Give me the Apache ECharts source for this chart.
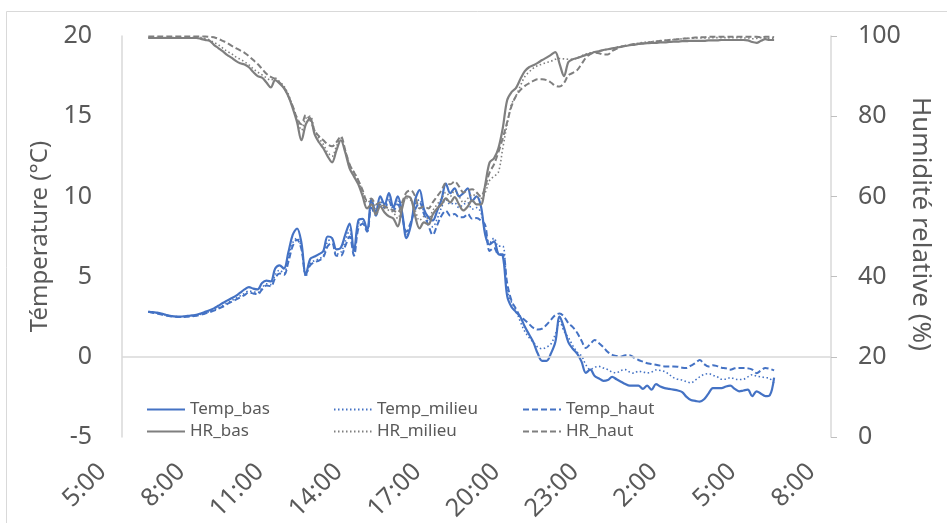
<!DOCTYPE html>
<html><head><meta charset="utf-8">
<script src="https://cdn.jsdelivr.net/npm/echarts@6/dist/echarts.min.js"></script>
<style>html,body{margin:0;padding:0;background:#fff}#c{width:947px;height:523px}</style>
</head><body><div id="c"></div>
<script>
// Time grid: first reading at 6:00, one reading every 10 minutes (hours > 24 = next day)
const startHour = 6;
const stepMinutes = 10;

const tempBas = [
 2.82,2.78,2.75,2.70,2.62,2.55,2.52,2.50,2.52,2.55,2.58,2.62,
 2.70,2.80,2.90,3.02,3.18,3.35,3.50,3.65,3.80,4.00,4.20,4.35,
 4.25,4.20,4.60,4.75,4.70,5.50,5.70,5.50,6.50,7.60,8.00,7.10,
 5.10,6.10,6.25,6.40,6.60,7.50,7.40,6.70,6.80,7.60,8.30,6.60,
 8.50,8.60,7.90,9.80,9.00,10.00,9.50,10.20,9.30,10.00,9.00,7.40,
 8.20,9.80,10.40,9.20,8.70,8.50,9.10,9.80,10.80,10.20,10.50,10.00,
 10.20,10.50,9.70,10.00,9.40,7.60,7.00,7.20,6.40,6.30,3.80,3.10,
 2.80,2.50,1.90,1.40,0.90,0.20,-0.25,-0.25,0.20,0.90,2.50,1.80,
 0.90,0.50,0.20,-0.30,-1.00,-0.80,-1.20,-1.35,-1.50,-1.45,-1.25,-1.40,
 -1.55,-1.70,-1.80,-1.80,-1.80,-2.00,-1.80,-2.05,-1.70,-1.85,-1.95,-2.00,
 -2.05,-2.10,-2.20,-2.50,-2.70,-2.75,-2.80,-2.65,-2.30,-1.95,-1.95,-1.95,
 -1.85,-1.80,-2.00,-2.15,-2.10,-2.05,-2.45,-2.15,-2.30,-2.45,-2.40,-1.30
];
const tempMilieu = [
 2.80,2.76,2.72,2.66,2.60,2.55,2.52,2.50,2.50,2.52,2.55,2.58,
 2.65,2.72,2.82,2.92,3.05,3.20,3.35,3.50,3.65,3.80,3.95,4.10,
 4.05,4.00,4.30,4.55,4.50,5.10,5.40,5.20,6.10,7.10,7.40,6.80,
 5.00,5.80,6.00,6.10,6.30,7.20,7.30,6.40,6.50,7.20,7.90,6.40,
 8.30,8.40,7.80,9.60,8.90,9.70,9.40,9.90,9.20,9.70,8.80,7.60,
 8.30,9.50,9.80,9.00,8.40,8.10,8.60,9.30,9.80,9.50,9.60,9.30,
 9.50,9.60,9.20,9.30,9.00,7.80,7.10,7.40,6.90,6.90,4.20,3.40,
 2.90,2.20,1.60,1.20,0.90,0.60,0.50,0.60,0.80,1.40,2.20,1.60,
 1.20,0.70,0.30,0.05,-0.50,-0.80,-0.65,-0.60,-0.70,-0.80,-0.95,-1.00,
 -0.85,-0.80,-0.95,-1.02,-0.90,-0.95,-1.00,-0.95,-0.82,-0.85,-0.92,-1.10,
 -1.30,-1.40,-1.45,-1.55,-1.62,-1.45,-1.25,-1.10,-1.05,-1.15,-1.25,-1.40,
 -1.40,-1.30,-1.38,-1.42,-1.40,-1.25,-1.12,-1.20,-1.25,-1.30,-1.35,-1.65
];
const tempHaut = [
 2.80,2.75,2.70,2.63,2.58,2.53,2.50,2.48,2.48,2.50,2.52,2.56,
 2.62,2.70,2.78,2.88,3.00,3.12,3.28,3.42,3.56,3.70,3.85,4.00,
 3.95,3.90,4.20,4.45,4.40,4.90,5.20,5.10,5.90,6.90,7.30,6.70,
 5.20,5.70,5.90,6.00,6.20,6.90,7.10,6.30,6.30,6.90,7.50,6.30,
 8.00,8.30,7.80,9.30,8.80,9.50,9.30,9.70,9.10,9.50,8.70,7.80,
 8.40,9.20,9.60,8.90,8.20,7.60,8.20,8.80,9.10,8.80,8.90,8.70,
 8.70,8.90,8.60,8.65,8.50,8.20,6.60,6.80,6.40,6.40,4.60,3.50,
 3.00,2.50,2.30,2.05,1.80,1.70,1.75,2.00,2.30,2.60,2.70,2.50,
 2.10,1.85,1.50,1.00,0.55,0.80,1.05,0.85,0.60,0.30,0.12,0.05,
 0.02,0.10,0.10,-0.05,-0.20,-0.30,-0.40,-0.45,-0.50,-0.55,-0.60,-0.60,
 -0.60,-0.62,-0.68,-0.70,-0.55,-0.40,-0.20,-0.45,-0.60,-0.52,-0.58,-0.68,
 -0.72,-0.80,-0.72,-0.70,-0.70,-0.72,-0.80,-1.02,-0.85,-0.70,-0.75,-0.85
];
const hrBas = [
 99.5,99.5,99.5,99.5,99.5,99.5,99.5,99.5,99.5,99.5,99.5,99.5,
 99.3,99.0,98.8,97.8,97.0,96.2,95.3,94.6,93.8,93.2,92.9,92.2,
 91.0,90.0,89.6,88.4,87.2,89.0,88.2,87.0,85.0,82.0,78.5,74.0,
 78.0,79.5,75.5,73.5,72.0,70.0,68.5,71.5,74.0,71.0,67.0,65.0,
 63.0,60.0,57.0,58.0,55.5,57.5,56.0,55.0,54.5,52.5,57.0,60.0,
 59.5,55.0,52.0,53.5,53.0,55.5,57.0,58.0,59.5,58.5,59.8,58.0,
 56.5,57.5,59.0,58.0,58.0,63.0,68.5,69.5,72.0,77.0,84.0,86.0,
 87.0,89.2,91.2,92.2,92.7,93.3,94.0,94.6,95.3,96.0,93.0,90.0,
 93.5,94.2,94.5,94.9,95.3,95.6,96.0,96.2,96.5,96.7,96.9,97.1,
 97.3,97.5,97.7,97.8,98.0,98.1,98.2,98.3,98.3,98.4,98.4,98.5,
 98.6,98.6,98.7,98.7,98.8,98.8,98.8,98.8,98.9,98.9,98.9,99.0,
 99.0,99.0,99.0,99.0,99.0,98.9,98.5,98.3,98.8,99.2,99.0,99.0
];
const hrMilieu = [
 99.6,99.6,99.6,99.6,99.6,99.6,99.6,99.6,99.6,99.6,99.6,99.6,
 99.6,99.4,99.0,98.4,97.8,97.0,96.2,95.6,94.8,94.2,93.6,92.8,
 91.8,91.0,90.3,89.6,89.0,89.5,88.6,87.5,85.5,82.5,79.5,76.5,
 79.5,80.0,76.5,74.5,73.0,71.0,70.0,72.5,74.5,71.5,68.0,66.0,
 64.0,61.0,58.5,59.0,57.0,58.0,57.0,56.5,56.0,54.5,57.5,59.5,
 59.0,56.5,54.0,55.0,54.5,56.5,58.0,59.5,61.0,60.0,61.5,60.0,
 58.5,59.5,60.5,60.0,59.5,61.0,64.0,65.0,66.0,72.0,78.0,83.0,
 85.0,87.5,89.8,91.0,92.0,92.6,93.0,93.4,93.7,94.2,94.4,94.3,
 94.2,94.2,94.5,95.0,95.5,95.8,96.0,96.2,96.5,96.7,96.9,97.2,
 97.4,97.6,97.8,98.0,98.2,98.4,98.5,98.6,98.7,98.8,98.9,99.0,
 99.1,99.2,99.3,99.4,99.4,99.5,99.5,99.5,99.5,99.6,99.6,99.6,
 99.6,99.6,99.6,99.6,99.5,99.5,99.3,99.4,99.6,99.5,99.4,99.5
];
const hrHaut = [
 99.9,99.9,99.9,99.9,99.9,99.9,99.9,99.9,99.9,99.9,99.9,99.9,
 99.9,99.9,99.8,99.7,99.3,98.8,98.3,97.6,97.0,96.4,95.8,95.0,
 94.0,93.0,91.8,90.6,89.8,89.3,88.4,87.2,85.0,82.5,79.5,78.0,
 80.3,79.0,76.5,75.0,74.0,73.0,72.5,73.5,75.0,71.5,68.0,66.0,
 64.0,61.5,59.0,59.5,58.0,58.5,57.5,57.0,56.5,56.0,58.5,61.0,
 61.5,60.0,57.0,57.5,57.0,58.5,60.0,61.5,63.3,63.0,63.7,62.5,
 61.0,61.5,61.8,61.0,60.0,62.5,66.0,68.0,71.0,74.5,78.5,82.5,
 85.0,86.5,87.5,88.2,88.8,89.2,89.2,89.0,88.4,87.6,87.4,88.3,
 90.2,90.8,91.5,93.0,94.6,95.5,95.8,95.7,95.4,95.4,96.3,96.8,
 97.3,97.6,97.8,98.0,98.1,98.2,98.3,98.5,98.6,98.8,98.9,99.0,
 99.1,99.2,99.3,99.4,99.5,99.6,99.7,99.7,99.8,99.8,99.8,99.8,
 99.8,99.8,99.8,99.8,99.8,99.8,99.8,99.8,99.7,99.8,99.8,99.7
];

// Axis settings (hours; labels wrap at 24h)
const xMin = 5, xMax = 32, xStep = 3;
const tempMin = -5, tempMax = 20, tempStep = 5;
const hrMin = 0, hrMax = 100, hrStep = 20;

const BLUE = '#4472C4', GRAY = '#7F7F7F', TXT = '#595959', AX = '#D9D9D9';
const FONT = 'Noto Sans';

function pairs(arr){ return arr.map((v,i)=>[startHour + i*stepMinutes/60, v]); }

function mkSeries(name, data, yIdx, color, type, width){
  return {
    name, type:'line', yAxisIndex:yIdx, data:pairs(data),
    symbol:'none', showSymbol:false, smooth:0.35,
    lineStyle:{color, width, type},
    itemStyle:{color},
    emphasis:{disabled:true}
  };
}

const series = [
  mkSeries('Temp_bas', tempBas, 0, BLUE, 'solid', 2.2),
  mkSeries('Temp_milieu', tempMilieu, 0, BLUE, [1.5,2.5], 1.6),
  mkSeries('Temp_haut', tempHaut, 0, BLUE, [6,3], 2),
  mkSeries('HR_bas', hrBas, 1, GRAY, 'solid', 2.2),
  mkSeries('HR_milieu', hrMilieu, 1, GRAY, [1.5,2.5], 1.6),
  mkSeries('HR_haut', hrHaut, 1, GRAY, [6,3], 2)
];
series[0].markLine = {
  silent:true, symbol:['none','none'], label:{show:false},
  lineStyle:{color:AX, width:1.5, type:'solid'},
  emphasis:{disabled:true},
  data:[{yAxis:0}]
};

const legendPos = [
  ['Temp_bas',141,396],['Temp_milieu',328,396],['Temp_haut',517,396],
  ['HR_bas',141,418],['HR_milieu',328,418],['HR_haut',517,418]
];
const legends = legendPos.map(([n,l,t])=>({
  data:[n], left:l, top:t, itemWidth:38, itemHeight:14, itemGap:4,
  selectedMode:false,
  itemStyle:{opacity:0, borderWidth:0},
  textStyle:{fontSize:17, color:TXT, fontFamily:FONT}
}));

const chart = echarts.init(document.getElementById('c'), null, {renderer:'canvas'});
chart.setOption({
  animation:false,
  backgroundColor:'#fff',
  textStyle:{fontFamily:FONT},
  graphic:[
    {type:'rect', silent:true, z:-1,
     shape:{x:6.5, y:11.5, width:980, height:560},
     style:{fill:'none', stroke:AX, lineWidth:1}},
    {type:'text', silent:true, x:920, y:224, rotation:-Math.PI/2,
     style:{text:'Humidité relative (%)', font:'26px "Noto Sans"', fill:TXT,
            textAlign:'center', textVerticalAlign:'middle'}}
  ],
  grid:{left:122, right:116, top:36, bottom:86, containLabel:false, outerBoundsMode:'none'},
  legend:legends,
  xAxis:{
    type:'value', min:xMin, max:xMax, interval:xStep,
    axisLine:{show:false}, axisTick:{show:false}, splitLine:{show:false},
    axisLabel:{rotate:45, fontSize:25, color:TXT, margin:11, padding:[0,28,0,0], fontFamily:FONT,
      formatter:v=>((v%24)+':00')}
  },
  yAxis:[
    {type:'value', position:'left', min:tempMin, max:tempMax, interval:tempStep,
     axisLine:{show:true, lineStyle:{color:AX, width:1.5}},
     axisTick:{show:false}, splitLine:{show:false},
     axisLabel:{fontSize:25, color:TXT, margin:30, fontFamily:FONT},
     name:'Témperature (°C)', nameLocation:'middle', nameGap:65,
     nameTextStyle:{fontSize:24, color:TXT, fontFamily:FONT}},
    {type:'value', position:'right', min:hrMin, max:hrMax, interval:hrStep,
     axisLine:{show:true, lineStyle:{color:AX, width:1.5}},
     axisTick:{show:true, length:6, lineStyle:{color:'#BFBFBF'}},
     splitLine:{show:false},
     axisLabel:{fontSize:25, color:TXT, margin:27, fontFamily:FONT}}
  ],
  series
});
</script></body></html>
